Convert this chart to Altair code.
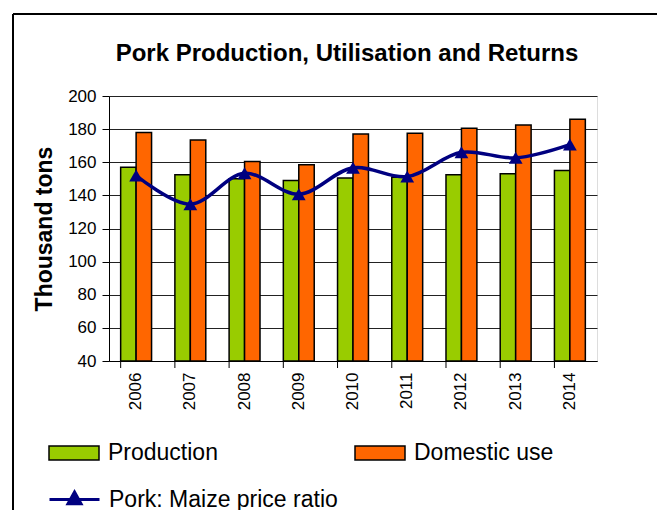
import altair as alt
import pandas as pd

years = ["2006", "2007", "2008", "2009", "2010", "2011", "2012", "2013", "2014"]
production = [157, 152.5, 150, 149, 150.5, 151, 152.5, 153, 155]
domestic = [178, 173.5, 160.5, 158.5, 177, 177.5, 180.5, 182.5, 186]
ratio = [8.4, 7.1, 8.5, 7.55, 8.75, 8.35, 9.45, 9.2, 9.8]
series_names = ["Production", "Domestic use"]
series_colors = ["#99CC00", "#FF6600"]
ratio_name = "Pork: Maize price ratio"
left_ticks = [40, 60, 80, 100, 120, 140, 160, 180, 200]
right_ticks = [0, 2, 4, 6, 8, 10, 12]

FONT = "Liberation Sans, Arial, sans-serif"
W, H = 488, 265

bar_df = pd.DataFrame({
    "year": years * 2,
    "series": [series_names[0]] * len(years) + [series_names[1]] * len(years),
    "value": production + domestic,
})
line_df = pd.DataFrame({"year": years, "ratio": ratio, "label": [ratio_name] * len(years)})
tick_df = pd.DataFrame({"year": years})

xscale = alt.Scale(domain=years, paddingInner=0.43, paddingOuter=0.215)

bars = alt.Chart(bar_df).mark_bar(stroke="black", strokeWidth=1.5).encode(
    x=alt.X("year:N", scale=xscale, sort=years,
            axis=alt.Axis(title=None, labelAngle=270, labelAlign="right", labelBaseline="middle",
                          labelFontSize=17, labelPadding=11, ticks=False, domainColor="black",
                          domainWidth=1, labelColor="black", labelFont=FONT)),
    xOffset=alt.XOffset("series:N", sort=series_names, scale=alt.Scale(paddingInner=0, paddingOuter=0)),
    y=alt.Y("value:Q", scale=alt.Scale(domain=[40, 200], zero=False, nice=False),
            axis=alt.Axis(values=left_ticks, title="Thousand tons", titleFontSize=23, titleFontWeight="bold",
                          titleFont=FONT, titleColor="black", titleAngle=270, titleX=-65, titleY=H / 2,
                          titleAlign="center", titleBaseline="middle",
                          labelFontSize=17, labelFont=FONT, labelColor="black", labelPadding=6,
                          tickSize=7, tickColor="black", domainColor="black", grid=True,
                          gridColor="#222222", gridWidth=1)),
    y2=alt.datum(40),
    fill=alt.Fill("series:N", scale=alt.Scale(domain=series_names, range=series_colors),
                  legend=alt.Legend(title=None, orient="none", legendX=-61, legendY=331, direction="horizontal",
                                    columns=2, columnPadding=134, symbolType="M-1,-0.28H1V0.28H-1Z",
                                    symbolSize=2500, symbolStrokeColor="black", symbolStrokeWidth=1.5,
                                    labelFontSize=23, labelFont=FONT, labelColor="black", labelOffset=8,
                                    labelLimit=400, padding=0)),
)

line = alt.Chart(line_df).mark_line(strokeWidth=3.5, interpolate="catmull-rom").encode(
    x=alt.X("year:N", scale=xscale, sort=years),
    y=alt.Y("ratio:Q", scale=alt.Scale(domain=[0, 12], nice=False),
            axis=alt.Axis(orient="right", values=right_ticks, title="c/kg", titleFontSize=23,
                          titleFontWeight="bold", titleFont=FONT, titleColor="black", titleAngle=270,
                          titleX=53, titleY=H / 2, titleAlign="center", titleBaseline="middle",
                          labelFontSize=17, labelFont=FONT, labelColor="black", labelPadding=6,
                          tickSize=7, tickColor="black", domainColor="black", grid=False)),
    stroke=alt.Stroke("label:N", scale=alt.Scale(range=["#000080"]),
                      legend=alt.Legend(title=None, orient="none", legendX=-61, legendY=377,
                                        symbolType="M-1,0H1M0,-0.3L0.26,0.17L-0.26,0.17Z",
                                        symbolSize=2500, symbolStrokeWidth=3, symbolFillColor="#000080",
                                        labelFontSize=23, labelFont=FONT, labelColor="black", labelOffset=8,
                                        labelLimit=400, padding=0)),
)

points = alt.Chart(line_df).mark_point(shape="triangle-up", filled=True, color="#000080", size=190, opacity=1).encode(
    x=alt.X("year:N", scale=xscale, sort=years),
    y=alt.Y("ratio:Q", scale=alt.Scale(domain=[0, 12], nice=False), axis=None),
)

xticks = alt.Chart(tick_df).mark_rule(color="black", strokeWidth=1).encode(
    x=alt.X("year:N", scale=xscale, sort=years, bandPosition=0),
    y=alt.value(H), y2=alt.value(H + 7),
)

border_left = alt.Chart(tick_df).mark_rule(color="black", strokeWidth=1.5).encode(
    x=alt.value(-96), y=alt.value(-82), y2=alt.value(420))
border_top = alt.Chart(tick_df).mark_rule(color="black", strokeWidth=1.5).encode(
    x=alt.value(-96), x2=alt.value(560), y=alt.value(-82))

left = alt.layer(bars, xticks)
right = alt.layer(line, points)

chart = alt.layer(left, right, border_left, border_top).resolve_scale(y="independent").properties(
    width=W, height=H,
    autosize=alt.AutoSizeParams(type="none"),
    padding={"left": 101, "top": 88, "right": 60, "bottom": 149},
    title=alt.Title("Pork Production, Utilisation and Returns", fontSize=24, font=FONT, fontWeight="bold",
                    color="black", anchor="middle", dx=-6, dy=72, offset=0, baseline="alphabetic"),
).configure_view(stroke=None).configure(background="white")

chart.save("out.html", embed_options={"renderer": "svg", "actions": False})
